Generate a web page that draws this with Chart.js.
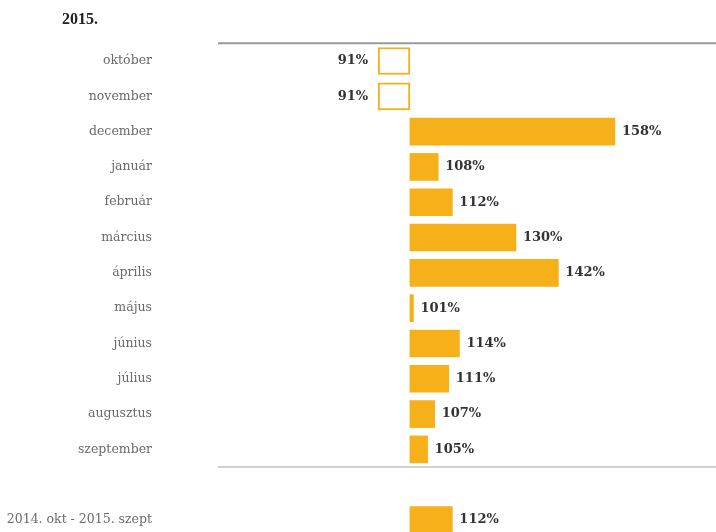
<!DOCTYPE html>
<html>
<head>
<meta charset="utf-8">
<script src="https://cdn.jsdelivr.net/npm/chart.js@4"></script>
<style>
  html, body { margin: 0; padding: 0; background: #fff; }
  canvas { display: block; }
</style>
</head>
<body>
<canvas id="myChart" width="716" height="532"></canvas>
<script>
// Hónapok és az éves összesítés (üres sor a térköz miatt)
const honapok = ['október', 'november', 'december', 'január', 'február', 'március',
  'április', 'május', 'június', 'július', 'augusztus', 'szeptember', '', '2014. okt - 2015. szept'];
// Index értékek %-ban
const ertekek = [91, 91, 158, 108, 112, 130, 142, 101, 114, 111, 107, 105, null, 112];
const alap = 100; // a sávok 100%-tól indulnak
const cim = '2015.';

const narancs = '#f5b01a';
const betu = '"DejaVu Serif", "Liberation Serif", serif';

// Lebegő sávok: [100, érték]
const savok = ertekek.map(v => v === null ? null : [alap, v]);

// Cím, vízszintes vonalak és értékcímkék rajzolása
const feliratok = {
  id: 'feliratok',
  beforeDatasetsDraw(chart) {
    const { ctx, chartArea, scales } = chart;
    const y = scales.y;
    const lepes = y.getPixelForValue(1) - y.getPixelForValue(0);
    ctx.save();
    // felső vonal
    ctx.strokeStyle = '#9a9a9a';
    ctx.lineWidth = 2;
    let yy = y.getPixelForValue(0) - lepes / 2;
    ctx.beginPath();
    ctx.moveTo(chartArea.left, yy);
    ctx.lineTo(chartArea.right, yy);
    ctx.stroke();
    // elválasztó vonal a szeptember után
    ctx.strokeStyle = '#d0d0d0';
    yy = y.getPixelForValue(11) + lepes / 2;
    ctx.beginPath();
    ctx.moveTo(chartArea.left, yy);
    ctx.lineTo(chartArea.right, yy);
    ctx.stroke();
    // cím
    ctx.fillStyle = '#222';
    ctx.font = 'bold 16px "Liberation Serif", serif';
    ctx.textAlign = 'left';
    ctx.textBaseline = 'middle';
    ctx.fillText(cim, 62, 20);
    ctx.restore();
  },
  afterDatasetsDraw(chart) {
    const { ctx } = chart;
    const meta = chart.getDatasetMeta(0);
    ctx.save();
    ctx.fillStyle = '#333';
    ctx.font = 'bold 13px ' + betu;
    ctx.textBaseline = 'middle';
    meta.data.forEach((bar, i) => {
      const v = ertekek[i];
      if (v === null) return;
      const szoveg = v + '%';
      if (v >= alap) {
        ctx.textAlign = 'left';
        ctx.fillText(szoveg, Math.max(bar.x, bar.base) + 7, bar.y);
      } else {
        ctx.textAlign = 'right';
        ctx.fillText(szoveg, Math.min(bar.x, bar.base) - 10, bar.y);
      }
    });
    ctx.restore();
  }
};

const ctx = document.getElementById('myChart').getContext('2d');
const chart = new Chart(ctx, {
  type: 'bar',
  data: {
    labels: honapok,
    datasets: [{
      data: savok,
      backgroundColor: ertekek.map(v => v !== null && v < alap ? '#ffffff' : narancs),
      borderColor: narancs,
      borderWidth: ertekek.map(v => v !== null && v < alap ? 2 : 0),
      borderSkipped: false,
      barThickness: 27,
      clip: false
    }]
  },
  options: {
    indexAxis: 'y',
    responsive: false,
    animation: false,
    layout: { padding: { top: 61, bottom: 12, left: 0, right: 0 } },
    plugins: {
      legend: { display: false },
      tooltip: { enabled: false }
    },
    scales: {
      x: {
        display: false,
        min: 45.7,
        max: 186.6
      },
      y: {
        type: 'category',
        offset: false,
        grid: { display: false, drawTicks: false },
        border: { display: false },
        ticks: {
          autoSkip: false,
          padding: 66,
          color: '#6a6a6a',
          font: { family: betu, size: 12.5 }
        },
        afterFit(scale) {
          scale.width = 218;
          // a címkék távolsága ne növelje a felső/alsó margót
          scale.paddingTop = 0;
          scale.paddingBottom = 0;
        }
      }
    }
  },
  plugins: [feliratok]
});
</script>
</body>
</html>
